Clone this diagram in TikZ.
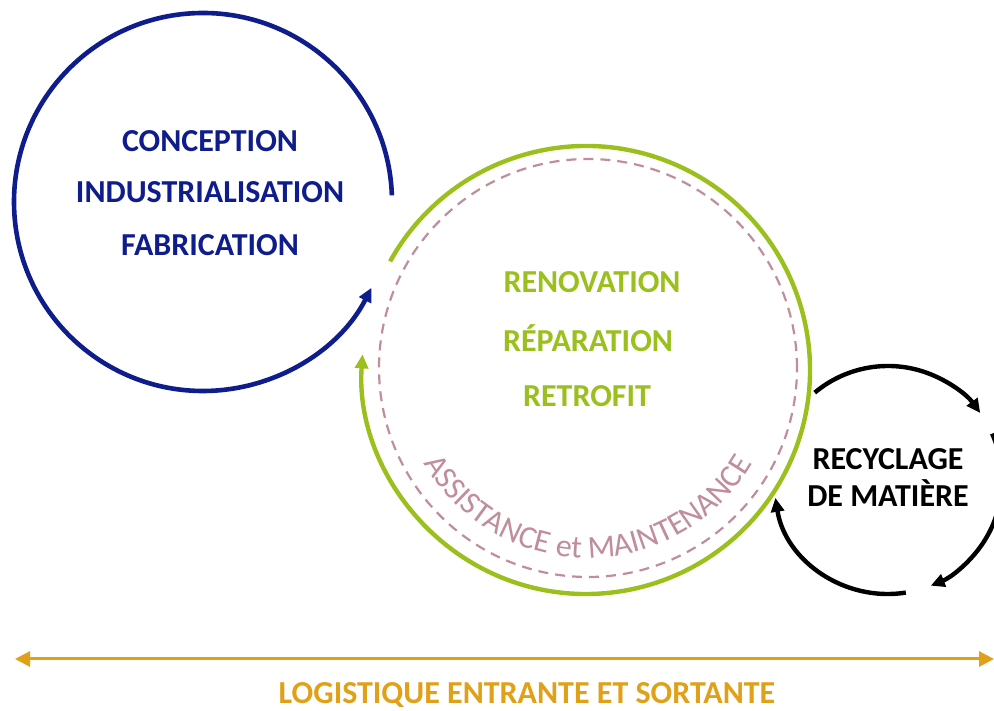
\documentclass[tikz,border=0pt]{standalone}
\usepackage{fontspec}
\setmainfont{Carlito}
\usetikzlibrary{arrows.meta,decorations.text}
\definecolor{cblue}{RGB}{14,28,140}
\definecolor{cgreen}{RGB}{155,192,30}
\definecolor{cmauve}{RGB}{192,142,155}
\definecolor{corange}{RGB}{224,160,24}
\begin{document}
\begin{tikzpicture}[x=1pt,y=1pt,
  tip/.style={-{Triangle[length=14pt,width=13pt]}},
  bigtext/.style={font=\fontsize{32}{32}\selectfont\bfseries, anchor=base, inner sep=0pt},
  bluearc/.style={draw=cblue, line width=4.6pt, tip},
  greenarc/.style={draw=cgreen, line width=4.4pt, tip},
  blackarc/.style={draw=black, line width=4.4pt, tip},
  dashring/.style={draw=cmauve, line width=2.2pt, dash pattern=on 10pt off 7pt},
  logline/.style={draw=corange, line width=3pt, {Triangle[length=15pt,width=15pt]}-{Triangle[length=15pt,width=15pt]}}]
\useasboundingbox (0,0) rectangle (994,711);
% centres
\coordinate (bc) at (203,509);
\coordinate (gc) at (586,341);
\coordinate (dc) at (588,343);
\coordinate (kc) at (888,231);
% blue arc
\draw[bluearc] ([shift={(bc)}]2:189) arc[start angle=2, end angle=333, radius=189pt];
% dashed ring
\draw[dashring] (dc) circle[radius=209pt];
% green arc
\draw[greenarc] ([shift={(gc)}]151:224) arc[start angle=151, end angle=-184, radius=224pt];
% black arcs
\draw[blackarc] ([shift={(kc)}]130:114) arc[start angle=130, end angle=36, radius=114pt];
\draw[blackarc] ([shift={(kc)}]24:114) arc[start angle=24, end angle=-68, radius=114pt];
\draw[blackarc] ([shift={(kc)}]-81:114) arc[start angle=-81, end angle=-171, radius=114pt];
% curved text
\path[decorate, decoration={text along path, text align=center,
  text={|\fontsize{32}{32}\selectfont\color{cmauve}|ASSISTANCE et MAINTENANCE}}]
  ([shift={(dc)}]200:190) arc[start angle=200, end angle=340, radius=190pt];
% texts
\node[bigtext, text=cblue] (t1) at (210,559) {CONCEPTION};
\node[bigtext, text=cblue] (t2) at (210,508) {INDUSTRIALISATION};
\node[bigtext, text=cblue] (t3) at (210,455) {FABRICATION};
\node[bigtext, text=cgreen] (g1) at (592,418) {RENOVATION};
\node[bigtext, text=cgreen] (g2) at (588,359) {RÉPARATION};
\node[bigtext, text=cgreen] (g3) at (587,304) {RETROFIT};
\node[bigtext] (r1) at (888,241) {RECYCLAGE};
\node[bigtext] (r2) at (888,204) {DE MATIÈRE};
% logistics
\coordinate (la) at (15,52);
\coordinate (lb) at (994,52);
\draw[logline] (la) -- (lb);
\node[bigtext, text=corange] (lg) at (527,7) {LOGISTIQUE ENTRANTE ET SORTANTE};
\end{tikzpicture}
\end{document}
